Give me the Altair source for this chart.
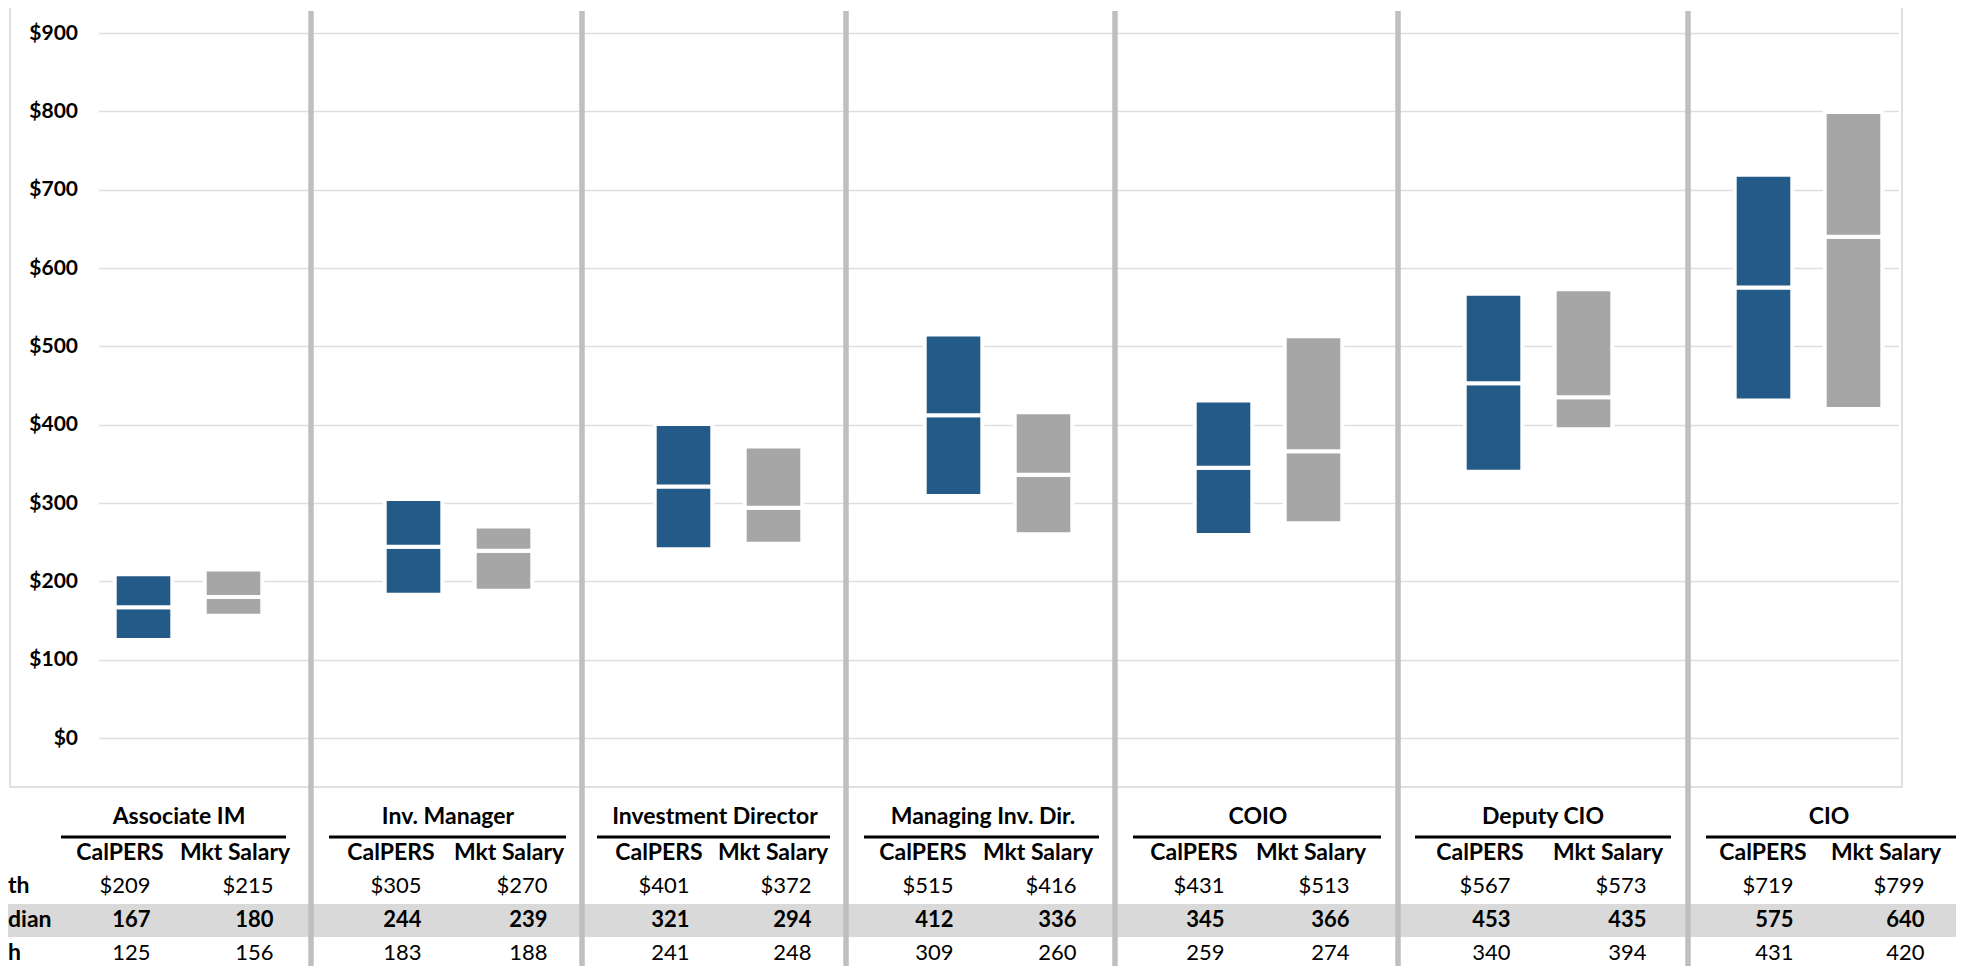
import altair as alt
import pandas as pd

# ---------------- data ----------------
categories = ["Associate IM", "Inv. Manager", "Investment Director",
              "Managing Inv. Dir.", "COIO", "Deputy CIO", "CIO"]
series = ["CalPERS", "Mkt Salary"]

calpers_high = [209, 305, 401, 515, 431, 567, 719]
calpers_median = [167, 244, 321, 412, 345, 453, 575]
calpers_low = [125, 183, 241, 309, 259, 340, 431]

mkt_high = [215, 270, 372, 416, 513, 573, 799]
mkt_median = [180, 239, 294, 336, 366, 435, 640]
mkt_low = [156, 188, 248, 260, 274, 394, 420]

row_labels = ["th", "dian", "h"]          # visible (clipped) row labels
y_ticks = [0, 100, 200, 300, 400, 500, 600, 700, 800, 900]

# ---------------- layout (reference page pixels) ----------------
PLOT_LEFT = 98.5     # page x of slot 0
SLOT = 90.0          # px per slot
Y_TOP = 33.0         # page y of $900
PLOT_W = 1800
PLOT_H = 705
PXU = PLOT_H / 900.0


def sx(px):
    return (px - PLOT_LEFT) / SLOT


def vy(py):
    return 900 - (py - Y_TOP) / PXU


separators_px = [311, 582, 846, 1115, 1398, 1688]
title_px = [179, 448, 715, 983, 1258, 1543, 1829]
underline_px = [(61, 286), (329, 566), (597, 830), (864, 1099),
                (1133, 1381), (1415, 1671), (1706, 1956)]
col_cal_px = [120, 391, 659, 923, 1194, 1480, 1763]
col_mkt_px = [235, 509, 773, 1038, 1311, 1608, 1886]
NUM_OFF = {"CalPERS": 30.5, "Mkt Salary": 38.5}

ROW_TITLE, ROW_LINE, ROW_HEAD = 817, 837, 853
ROW_HIGH, ROW_MED, ROW_LOW = 886, 920, 953
BAND = (904, 937)

BLUE = "#245A87"
GRAY = "#A6A6A6"
FONT = "Lato"

# ---------------- tables ----------------
bar_rows = []
for g, cat in enumerate(categories):
    for s, ser in enumerate(series):
        hi = (calpers_high, mkt_high)[s][g]
        me = (calpers_median, mkt_median)[s][g]
        lo = (calpers_low, mkt_low)[s][g]
        c = 3 * g + s + 0.5
        for a, b in ((lo, me), (me, hi)):
            bar_rows.append({"category": cat, "series": ser, "x": c - 0.32,
                             "x2": c + 0.32, "y": a, "y2": b})
bars_df = pd.DataFrame(bar_rows)

xs = alt.Scale(domain=[0, 20], nice=False, zero=False)
ys = alt.Scale(domain=[0, 900], nice=False, zero=False)

y_axis = alt.Axis(values=y_ticks, labelExpr="'$' + datum.value", grid=True,
                  gridColor="#DEDEDE", gridWidth=1.5, domain=False, ticks=False,
                  labelPadding=21, labelFont=FONT, labelFontSize=21,
                  labelFontWeight="bold", labelColor="#000000", title=None)


def X(f):
    return alt.X(f, type="quantitative", scale=xs, axis=None)


def Y(f):
    return alt.Y(f, type="quantitative", scale=ys, axis=y_axis)


# median band
band_df = pd.DataFrame([{"x": sx(-10), "x2": sx(1956), "y": vy(BAND[0]), "y2": vy(BAND[1])}])
band = alt.Chart(band_df).mark_rect(color="#D9D9D9").encode(
    x=X("x"), x2="x2", y=Y("y"), y2="y2")

# chart frame
frame_df = pd.DataFrame([{"x": sx(10), "x2": sx(1902), "y": vy(7), "y2": vy(787)}])
frame = alt.Chart(frame_df).mark_rect(fillOpacity=0, stroke="#D6D6D6", strokeWidth=1.5).encode(
    x=X("x"), x2="x2", y=Y("y"), y2="y2")

bars = alt.Chart(bars_df).mark_rect(stroke="white", strokeWidth=4).encode(
    x=X("x"), x2="x2", y=Y("y"), y2="y2",
    color=alt.Color("series:N", scale=alt.Scale(domain=series, range=[BLUE, GRAY]),
                    legend=None))

ul_df = pd.DataFrame([{"x": sx(a), "x2": sx(b), "y": vy(ROW_LINE)} for a, b in underline_px])
underlines = alt.Chart(ul_df).mark_rule(color="#000000", strokeWidth=3).encode(
    x=X("x"), x2="x2", y=Y("y"))

sep_df = pd.DataFrame([{"x": sx(p), "y": vy(11), "y2": vy(990)} for p in separators_px])
seps = alt.Chart(sep_df).mark_rule(color="#BFBFBF", strokeWidth=5.5).encode(
    x=X("x"), y=Y("y"), y2="y2")

# texts
title_df = pd.DataFrame([{"x": sx(p), "y": vy(ROW_TITLE), "t": c}
                         for p, c in zip(title_px, categories)])
titles = alt.Chart(title_df).mark_text(font=FONT, fontSize=23, fontWeight="bold",
                                       align="center", baseline="middle", color="#000").encode(
    x=X("x"), y=Y("y"), text="t:N")

head_rows = []
num_rows = []
for g in range(len(categories)):
    for ser, cols in (("CalPERS", col_cal_px), ("Mkt Salary", col_mkt_px)):
        cx = cols[g]
        head_rows.append({"x": sx(cx), "y": vy(ROW_HEAD), "t": ser})
        hi = (calpers_high if ser == "CalPERS" else mkt_high)[g]
        me = (calpers_median if ser == "CalPERS" else mkt_median)[g]
        lo = (calpers_low if ser == "CalPERS" else mkt_low)[g]
        rx = sx(cx + NUM_OFF[ser])
        num_rows.append({"x": rx, "y": vy(ROW_HIGH), "t": f"${hi}", "w": "normal"})
        num_rows.append({"x": rx, "y": vy(ROW_MED), "t": f"{me}", "w": "bold"})
        num_rows.append({"x": rx, "y": vy(ROW_LOW), "t": f"{lo}", "w": "normal"})
head_df = pd.DataFrame(head_rows)
num_df = pd.DataFrame(num_rows)

heads = alt.Chart(head_df).mark_text(font=FONT, fontSize=23, fontWeight="bold",
                                     align="center", baseline="middle", color="#000").encode(
    x=X("x"), y=Y("y"), text="t:N")

nums_n = alt.Chart(num_df[num_df.w == "normal"]).mark_text(
    font=FONT, fontSize=22, align="right", baseline="middle", color="#000").encode(
    x=X("x"), y=Y("y"), text="t:N")
nums_b = alt.Chart(num_df[num_df.w == "bold"]).mark_text(
    font=FONT, fontSize=22, fontWeight="bold", align="right", baseline="middle",
    color="#000").encode(x=X("x"), y=Y("y"), text="t:N")

rl_df = pd.DataFrame([{"x": sx(8), "y": vy(py), "t": t}
                      for py, t in zip((ROW_HIGH, ROW_MED, ROW_LOW), row_labels)])
rlabels = alt.Chart(rl_df).mark_text(font=FONT, fontSize=23, fontWeight="bold",
                                     align="left", baseline="middle", color="#000").encode(
    x=X("x"), y=Y("y"), text="t:N")

chart = alt.layer(band, frame, bars, underlines, seps,
                  titles, heads, nums_n, nums_b, rlabels).properties(
    width=PLOT_W, height=PLOT_H,
    autosize=alt.AutoSizeParams(type="none"),
    padding={"left": 90.5, "top": 25, "right": 60, "bottom": 228},
    background="white",
).configure_view(stroke=None)

chart.save("out.html", embed_options={"renderer": "svg", "actions": False})
